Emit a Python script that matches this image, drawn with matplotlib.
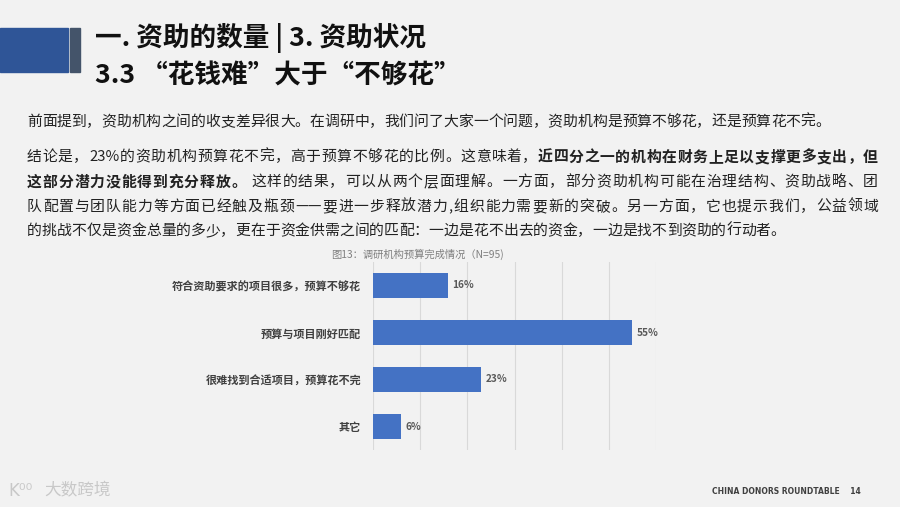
import re
import matplotlib
matplotlib.use("Agg")
import matplotlib.pyplot as plt
from matplotlib.patches import Rectangle

plt.rcParams['font.family'] = ['Noto Sans CJK SC', 'DejaVu Sans']

# 数据
categories = ['符合资助要求的项目很多，预算不够花', '预算与项目刚好匹配',
              '很难找到合适项目，预算花不完', '其它']
values = [16, 55, 23, 6]
xticks = [0, 10, 20, 30, 40, 50, 60]

title1 = '一. 资助的数量 | 3. 资助状况'
title2 = '3.3 “花钱难”大于“不够花”'
chart_title = '图13：调研机构预算完成情况（N=95)'

# 正文，(文字, 是否加粗)
body_lines = [
    [('前面提到，资助机构之间的收支差异很大。在调研中，我们问了大家一个问题，资助机构是预算不够花，还是预算花不完。', False)],
    [('结论是，23%的资助机构预算花不完，高于预算不够花的比例。这意味着，', False),
     ('近四分之一的机构在财务上足以支撑更多支出，但', True)],
    [('这部分潜力没能得到充分释放。', True),
     (' 这样的结果，可以从两个层面理解。一方面，部分资助机构可能在治理结构、资助战略、团', False)],
    [('队配置与团队能力等方面已经触及瓶颈——要进一步释放潜力,组织能力需要新的突破。另一方面，它也提示我们，公益领域', False)],
    [('的挑战不仅是资金总量的多少，更在于资金供需之间的匹配：一边是花不出去的资金，一边是找不到资助的行动者。', False)],
]
body_y = [122, 157, 182, 207, 231]
justify = [False, True, True, True, False]

W, H = 900, 507
bg = '#f2f2f2'
fig = plt.figure(figsize=(W / 100, H / 100), dpi=100, facecolor=bg)


def fx(px):
    return px / W


def fy(py):
    return 1 - py / H


# 标题栏
fig.patches.append(Rectangle((0, fy(72)), fx(68), (72 - 28) / H,
                             transform=fig.transFigure, color='#2f5597'))
fig.patches.append(Rectangle((fx(70), fy(72)), fx(10), (72 - 28) / H,
                             transform=fig.transFigure, color='#44546a'))
fig.text(fx(95), fy(38), title1, fontsize=19.2, fontweight='bold',
         color='#111111', va='center')
fig.text(fx(95), fy(76), title2, fontsize=19.2, fontweight='bold',
         color='#111111', va='center')

# 正文（按字/词块绘制，两端对齐的行平均分配多余宽度）
fig.canvas.draw()
renderer = fig.canvas.get_renderer()
left, right = 27, 878
fs = 10.7
for line, y, just in zip(body_lines, body_y, justify):
    pieces = []
    for s, bold in line:
        for tok in re.findall(r'[A-Za-z0-9%.]+|——|.', s):
            t = fig.text(0, fy(y), tok, fontsize=fs, color='#222222',
                         fontweight='bold' if bold else 'normal', va='center')
            w = t.get_window_extent(renderer).width
            pieces.append((t, w))
    total = sum(w for _, w in pieces)
    gap = (right - left - total) / (len(pieces) - 1) if just else 0
    x = left
    for t, w in pieces:
        t.set_x(fx(x))
        x += w + gap

# 图表
ax = fig.add_axes([fx(373), fy(450), fx(656 - 373), (450 - 262) / H])
ax.set_facecolor(bg)
ypos = range(len(categories))
ax.barh(ypos, values, height=0.53, color='#4472c4', zorder=3)
ax.set_ylim(len(categories) - 0.5, -0.5)
ax.set_xlim(0, 60)
ax.set_xticks(xticks)
ax.xaxis.grid(True, color='#d9d9d9', linewidth=0.8, zorder=0)
ax.tick_params(axis='x', length=0, labelbottom=False)
ax.tick_params(axis='y', length=0, pad=8.5)
ax.set_yticks(list(ypos))
ax.set_yticklabels(categories, fontsize=8, fontweight='bold', color='#404040')
for sp in ax.spines.values():
    sp.set_visible(False)
for v, yy in zip(values, ypos):
    ax.text(v + 0.85, yy, f'{v}%', va='center', ha='left', fontsize=7.3,
            fontweight='bold', color='#595959')

fig.text(fx(418), fy(254), chart_title, fontsize=7.4, color='#7f7f7f',
         ha='center', va='center')

# 页脚
fig.text(fx(8), fy(491), 'K⁰⁰', fontsize=12, color='#c8c8c8', va='center',
         family=['DejaVu Sans'])
fig.text(fx(44), fy(491), '大数跨境', fontsize=12, color='#c8c8c8', va='center')
fig.text(fx(861), fy(491), 'CHINA DONORS ROUNDTABLE    14', fontsize=5.5,
         fontweight='bold', color='#404040', ha='right', va='center',
         family=['DejaVu Sans'])

fig.savefig('out.png', dpi=100, facecolor=bg)
